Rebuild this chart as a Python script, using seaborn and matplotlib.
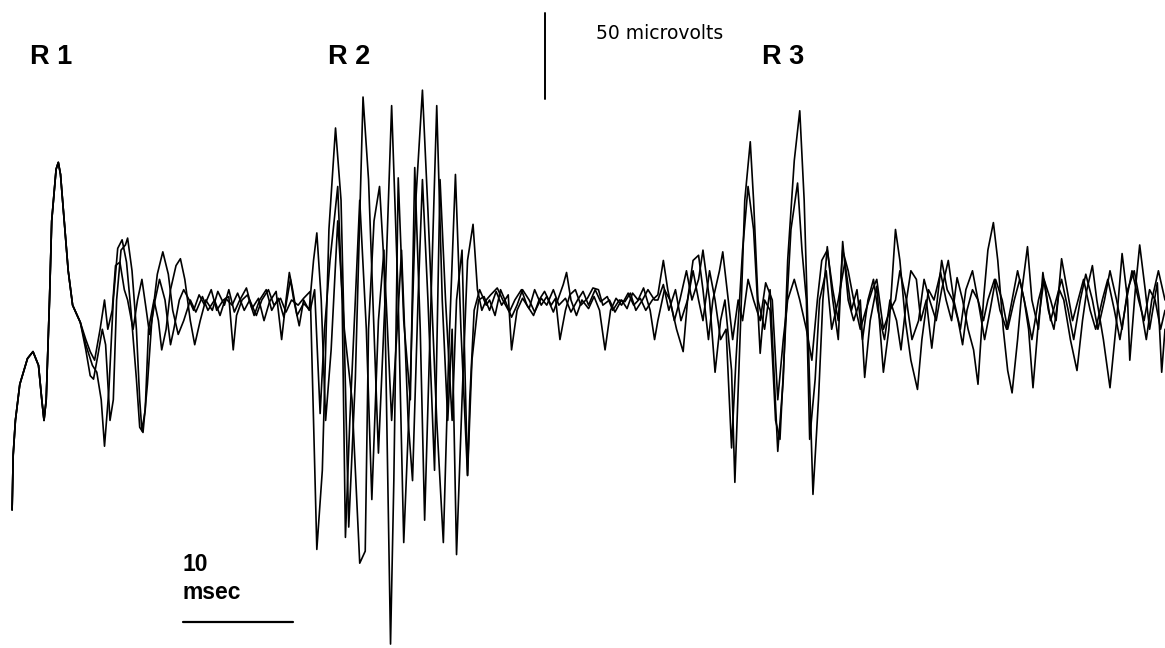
import numpy as np
import pandas as pd
import matplotlib
matplotlib.use("Agg")
import matplotlib.pyplot as plt
import seaborn as sns

# shared onset (R1 direct response), ms / microvolts
onset_t = [1.1, 1.2, 1.4, 1.8, 2.5, 3.0, 3.5, 3.8, 4.0, 4.2, 4.5, 4.7, 5.1, 5.3, 5.5, 5.8, 6.2, 6.6, 7.3]
onset_v = [-122, -90, -70, -49, -34, -30, -38, -58, -70, -58, 0, 46, 76, 80, 73, 49, 17, -3, -13]

# trace A
a_t = [7.8, 8.4, 8.8, 9.2, 9.5, 9.9, 10.3, 10.7, 11.1, 11.5, 11.9, 12.4, 12.7, 13.0, 13.4, 13.8, 14.3, 14.8,
       15.3, 15.7, 16.2, 16.7, 17.3, 17.8, 18.4, 18.9, 19.5, 20.0, 20.5, 21.1, 21.6, 22.2, 22.7, 23.3, 23.8,
       24.4, 24.9, 25.5, 26.0, 26.5, 27.1, 27.6,
       28.2, 28.8, 29.3, 29.9, 30.5, 31.0, 31.7, 32.3, 33.0, 33.5, 34.4, 35.0, 35.6, 36.2, 36.7, 37.3, 37.8,
       38.4, 38.9, 39.7, 40.3, 40.8, 41.4, 41.9, 42.5, 42.9, 43.5, 44.0,
       44.5, 45.1, 45.6, 46.2, 46.5, 47.0, 47.5, 48.1, 48.6, 49.2, 49.7, 50.3, 50.7, 51.2, 51.5, 51.9, 52.4,
       52.9, 53.5, 54.0, 54.5, 55.0, 55.5, 56.0, 56.5, 57.1, 57.6, 58.2, 58.7, 59.3,
       59.8, 60.3, 60.7, 61.3, 61.8, 62.4, 62.9, 63.5, 63.9, 64.5, 65.0, 65.5, 65.9, 66.5, 66.8, 67.3, 67.7,
       68.2, 68.5, 68.9, 69.5, 70.0, 70.7, 71.2, 71.6, 72.2, 72.7, 73.1, 73.5, 73.9, 74.4, 74.8, 75.2, 75.7,
       76.2, 76.6, 77.1, 77.6, 78.2, 78.6, 79.1, 79.7, 80.3, 80.8,
       81.4, 81.8, 82.3, 82.8, 83.4, 83.8, 84.4, 84.9, 85.5, 86.0, 86.5, 87.0, 87.5, 88.0, 88.5, 88.9, 89.4,
       89.8, 90.3, 90.7, 91.2, 91.6, 92.0, 92.5, 92.9, 93.4, 93.8, 94.4, 94.8, 95.3, 95.8, 96.3, 96.7, 97.3,
       97.9, 98.4, 98.8, 99.3, 99.7, 100.3, 100.9, 101.5, 102.0, 102.5, 102.7, 103.2, 103.6, 104.1, 104.5,
       105.2, 105.6, 105.9]
a_v = [-26, -38, -42, -58, -85, -52, 0, 30, 35, 22, -6, -46, -74, -77, -49, -12, 15, 28,
       15, -6, -20, -12, 0, -7, 2, -6, 0, -9, 1, -3, 4, -6, 0, -9, 0,
       6, -3, 1, -7, 0, -3, 1,
       5, -145, -99, 41, 100, 58, -132, -46, 118, 70, -89, 0, 113, 0, -141, -46, 58,
       122, 52, -70, -141, -29, 73, -17, -102, -35, 0, 2,
       -6, 5, -3, 3, -29, -6, 1, -5, 6, -3, 2, -7, 0, 9, 16, 0, -9,
       0, -5, 2, -6, -29, -6, 1, -3, 4, -3, 1, -6, 0,
       3, 23, 6, -12, 0, 17, 0, 12, 29, 0, -42, -12, 0, -41, -106, -17, 58,
       92, 58, 0, -17, 6, -88, -46, 23, 81, 110, 58, -29, -113, -58, 0, 31, 0,
       -23, 34, 0, -12, 0, -45, -12, 8, -42, -17,
       41, 23, -12, -35, -52, -23, 6, 0, 16, 0, -12, 13, 0, -17, -29, -49, 0,
       29, 45, 23, -17, -41, -54, -23, 6, 31, 0, -17, 16, -6, -17, 6, 0, -23,
       -41, -12, 6, 20, 0, -23, -51, -12, 27, 0, -35, 6, 32, 6, -17,
       10, -42, -17]

# trace B
b_t = [7.8, 8.2, 8.5, 8.9, 9.3, 9.6, 10.0, 10.3, 10.6, 11.0, 11.4, 11.6, 12.0, 12.4, 12.7, 12.9, 13.2, 13.5,
       14.0, 14.4, 14.7, 15.1, 15.5, 16.0, 16.4, 16.8, 17.3, 17.7, 18.2, 18.7, 19.3, 19.8, 20.4, 20.8, 21.3,
       21.8, 22.4, 22.9, 23.5, 24.0, 24.5, 25.1, 25.6, 26.0, 26.3, 26.6, 27.0, 27.6,
       28.2, 28.6, 29.1, 29.5, 30.0, 30.7, 31.1, 31.4, 31.8, 32.3, 32.7, 33.3, 33.8, 34.4, 34.9, 35.5, 35.8,
       36.2, 36.7, 37.3, 37.7, 38.2, 38.6, 39.1, 39.7, 40.2, 40.7, 41.1, 41.5, 42.0, 42.5, 43.0, 43.4, 43.8,
       44.2, 44.6, 45.2, 45.7, 46.3, 46.8, 47.4, 47.9, 48.5, 49.0, 49.5, 50.1, 50.5, 50.9, 51.4, 51.8, 52.3,
       52.8, 53.4, 53.9, 54.4, 54.8, 55.4, 55.9, 56.5, 57.0, 57.5, 58.0, 58.5, 59.1, 59.5,
       59.8, 60.4, 60.9, 61.5, 62.1, 62.5, 63.0, 63.5, 63.9, 64.5, 65.0, 65.5, 66.0, 66.5, 66.9, 67.5, 68.0,
       68.5, 68.8, 69.1, 69.5, 70.0, 70.5, 70.9, 71.4, 71.9, 72.5, 72.9, 73.3, 73.6, 74.1, 74.5, 75.1, 75.6,
       76.2, 76.8, 77.4, 77.9, 78.4, 78.9, 79.4, 79.8, 80.4, 80.9,
       81.5, 81.9, 82.4, 82.8, 83.3, 83.7, 84.2, 84.7, 85.2, 85.6, 86.1, 86.6, 87.1, 87.5, 87.9, 88.4, 88.9,
       89.4, 89.8, 90.4, 90.9, 91.5, 92.0, 92.5, 93.1, 93.5, 93.9, 94.4, 94.9, 95.5, 96.0, 96.5, 97.0, 97.5,
       98.0, 98.5, 99.1, 99.6, 100.2, 100.7, 101.3, 101.8, 102.4, 102.9, 103.5, 104.0, 104.5, 105.0, 105.5,
       105.9]
b_v = [-29, -44, -46, -32, -17, -26, -70, -58, 0, 29, 32, 36, 17, -17, -58, -76, -64, -17,
       0, -12, -29, -17, 6, 20, 24, 12, -12, -26, -12, 0, -6, 5, -3, 6, -7,
       0, 7, -5, 1, -12, -1, 5, -23, 0, 16, 6, -9, -2,
       -6, 6, -66, -17, 23, 66, 0, -138, -70, 0, 58, -17, -116, -12, 29, -200, -105,
       71, -12, -58, 77, -17, -128, -17, 113, 0, -70, -17, -148, -58, 23, 44, 6, -6,
       0, 3, 7, 0, -7, 0, 6, -3, -9, 0, 5, -3, 1, -23, -6, 3, 6,
       -3, 1, 7, 6, -3, 0, -7, 0, -5, 4, 0, 7, -6, -23,
       -12, 6, 0, -17, -30, 0, 17, 0, -12, 17, 0, -23, -17, -86, -35, 29, 66,
       41, 6, -31, 0, -6, -70, -81, -17, 41, 68, 29, 0, -81, -46, 0, 17, -17,
       0, 22, -6, 6, -23, 0, 12, -6, -23, 0,
       -12, -29, 0, 17, 12, -12, 0, -28, 0, 23, 6, 0, -12, -26, -6, 6, 0,
       -12, 0, 12, -6, -17, 0, 17, 0, -17, -51, -12, 12, 0, -12, 24, 6, -12,
       0, 12, -6, -17, 0, 12, -6, -23, 0, 17, 0, -12, 6, 0, -17,
       -6]

# trace C
c_t = [7.8, 8.2, 8.6, 9.1, 9.5, 9.8, 10.2, 10.5, 10.9, 11.3, 11.6, 12.1, 12.5, 12.9, 13.3, 13.6, 14.1, 14.5,
       15.0, 15.5, 15.8, 16.3, 16.7, 17.2, 17.6, 18.1, 18.6, 19.2, 19.7, 20.3, 20.8, 21.2, 21.5, 22.0, 22.5,
       23.1, 23.6, 24.2, 24.7, 25.3, 25.8, 26.4, 26.7, 27.2, 27.6,
       28.1, 28.5, 28.8, 29.2, 29.6, 30.1, 30.7, 31.3, 32.0, 32.7, 33.2, 33.5, 34.0, 34.5, 35.1, 35.6, 36.1,
       36.5, 37.1, 37.5, 38.0, 38.4, 38.9, 39.5, 40.0, 40.5, 41.1, 41.5, 42.0, 42.5, 42.7, 43.1, 43.6, 44.2,
       44.5, 45.0, 45.5, 45.9, 46.5, 47.0, 47.5, 48.1, 48.6, 49.2, 49.7, 50.3, 50.8, 51.4, 51.9, 52.5, 53.0,
       53.5, 54.1, 54.6, 55.2, 55.7, 56.3, 56.8, 57.3, 57.8, 58.4, 58.9, 59.5,
       59.8, 60.3, 60.8, 61.4, 61.9, 62.5, 63.0, 63.5, 63.9, 64.4, 64.8, 65.4, 65.7, 66.2, 66.6, 67.1, 67.5,
       68.0, 68.5, 69.1, 69.6, 70.2, 70.7, 71.2, 71.6, 72.2, 72.7, 73.3, 73.8, 74.3, 74.7, 75.2, 75.7, 76.2,
       76.6, 77.1, 77.6, 78.2, 78.7, 79.3, 79.7, 80.3, 80.9,
       81.4, 81.8, 82.4, 82.9, 83.5, 84.0, 84.5, 85.1, 85.6, 86.2, 86.7, 87.3, 87.8, 88.4, 88.9, 89.5, 90.0,
       90.5, 91.1, 91.6, 92.2, 92.7, 93.3, 93.8, 94.4, 94.9, 95.5, 96.0, 96.5, 97.1, 97.6, 98.2, 98.7, 99.3,
       99.8, 100.4, 100.9, 101.5, 102.0, 102.5, 103.1, 103.6, 104.2, 104.7, 105.3, 105.9]
c_v = [-23, -30, -35, -17, 0, -17, -6, 20, 22, 6, 0, -17, 0, 12, -6, -20, 0, 12,
       0, -26, -17, 0, 6, 0, -6, 3, -3, 6, -6, 0, 2, -29, -9, 0, 3,
       -9, 0, 6, -6, 1, -10, 12, 0, -15, 0,
       -6, 23, 39, 0, -70, -29, 46, -17, -58, -153, -146, -17, 46, 66, 0, -70, -17,
       29, -70, -105, 0, 70, 0, -99, 70, 0, -70, 0, 29, -102, -58, -6, 6, -3,
       0, -9, 6, 0, -10, -3, 6, 0, -7, 1, -3, 6, -3, 1, -7, 0, 5,
       -3, 6, -1, 2, -6, 0, -1, 4, -6, 0, 6, 0,
       0, 9, -6, 6, -12, 0, 23, 26, 6, -23, 0, 17, 28, 0, -23, 0, -12,
       12, 0, -12, 10, 0, -58, -23, 0, 12, 0, -17, -35, 0, 23, 29, 6, -12,
       29, 17, 0, -17, -6, 6, 12, -17, -6,
       0, 17, 0, -23, -12, 12, 0, -12, 6, 23, 0, -17, 6, 17, 0, -23, -6,
       12, 0, -17, 0, 12, -6, -23, 0, 12, -12, 0, 12, -6, -23, 0, 15, 0,
       -17, 0, 17, 0, -17, 6, 17, 0, -23, 0, 17, 0]

rows = []
for name, tt, vv in [("A", a_t, a_v), ("B", b_t, b_v), ("C", c_t, c_v)]:
    for t, v in zip(onset_t + tt, onset_v + vv):
        rows.append((name, t, v))
df = pd.DataFrame(rows, columns=["trace", "t", "v"])

sns.set_style("white")
plt.rcParams["font.family"] = ["Liberation Sans", "DejaVu Sans"]
plt.rcParams["text.color"] = "black"

fig = plt.figure(figsize=(11.65, 6.48), dpi=100)
ax = fig.add_axes([0, 0, 1, 1])
sns.lineplot(data=df, x="t", y="v", units="trace", estimator=None, sort=False,
             color="black", lw=1.2, ax=ax, legend=False)

# scale bars: 10 msec horizontal, 50 microvolts vertical
ax.plot([16.6, 26.6], [-187, -187], color="black", lw=1.6)
ax.plot([49.5, 49.5], [117, 167], color="black", lw=1.4)

ax.text(2.7, 141, "R 1", fontsize=19.5, fontweight="bold", va="center")
ax.text(29.8, 141, "R 2", fontsize=19.5, fontweight="bold", va="center")
ax.text(69.3, 141, "R 3", fontsize=19.5, fontweight="bold", va="center")
ax.text(54.2, 155, "50 microvolts", fontsize=13.5, va="center", family="DejaVu Sans")
ax.text(16.6, -154, "10", fontsize=16.5, fontweight="bold", va="center")
ax.text(16.6, -170, "msec", fontsize=16.5, fontweight="bold", va="center")

ax.set_xlim(0, 105.9)
ax.set_ylim(-202.3, 174.4)
ax.axis("off")

fig.savefig("out.png", dpi=100, facecolor="white")
